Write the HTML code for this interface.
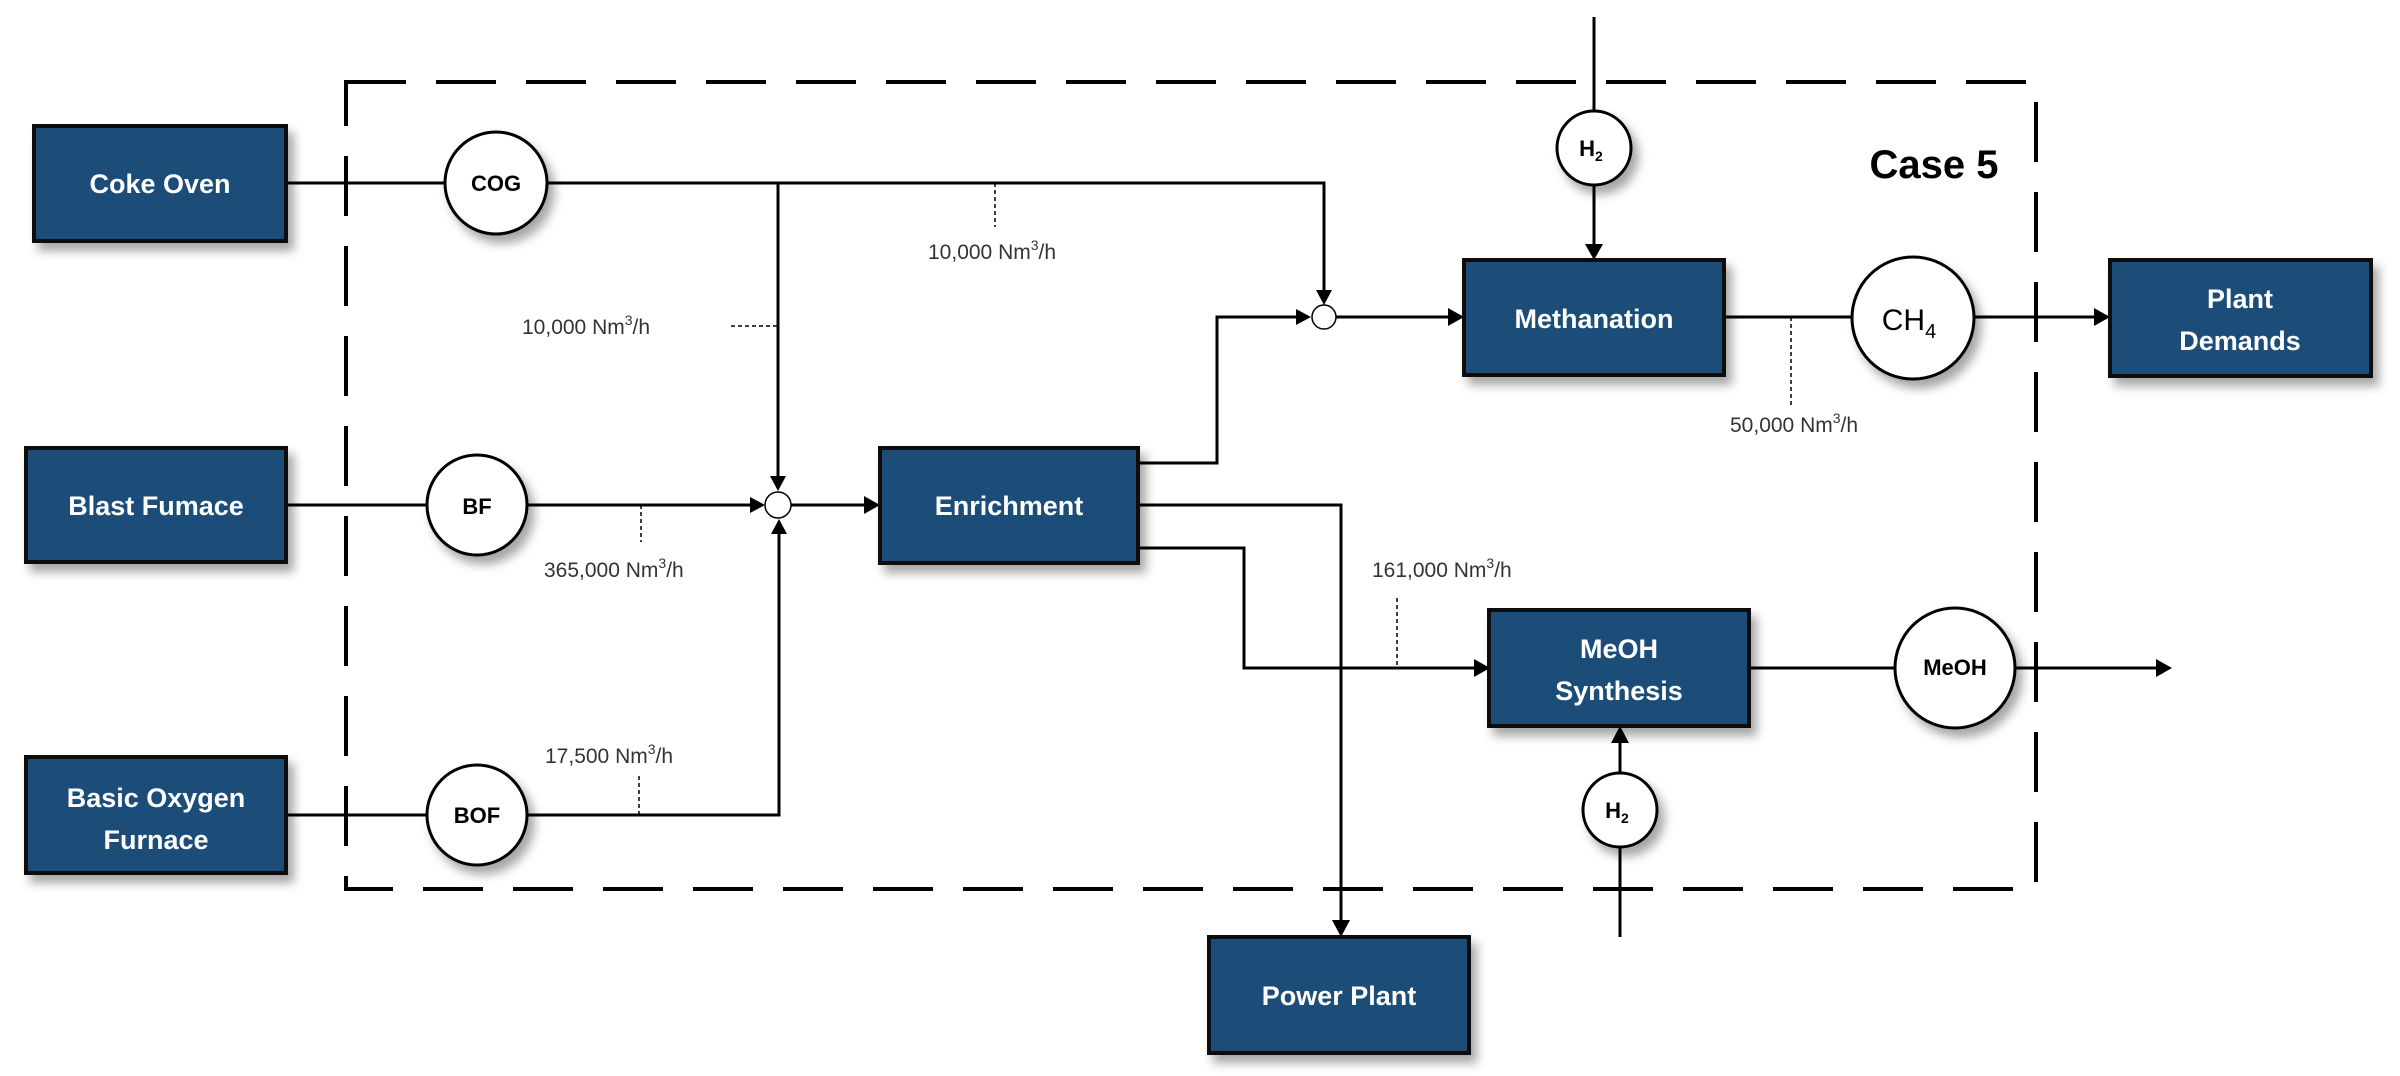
<!DOCTYPE html>
<html><head><meta charset="utf-8"><style>
html,body{margin:0;padding:0;background:#fff;}
svg{display:block;}
.bx{fill:#1f4e79;stroke:#111;stroke-width:4;}
.bt{fill:#fff;font-family:"Liberation Sans",sans-serif;font-weight:bold;font-size:27px;text-anchor:middle;}
.ln{stroke:#000;stroke-width:3;fill:none;}
.dt{stroke:#000;stroke-width:1.5;stroke-dasharray:4 3;fill:none;}
.ci{fill:#fff;stroke:#000;stroke-width:3;}
.ct{fill:#000;font-family:"Liberation Sans",sans-serif;font-weight:bold;font-size:22px;text-anchor:middle;}
.lb{fill:#333;font-family:"Liberation Sans",sans-serif;font-size:21px;}
.ah{fill:#000;}
</style></head><body>
<svg width="2400" height="1076" viewBox="0 0 2400 1076" xmlns="http://www.w3.org/2000/svg">
<defs>
<filter id="sh" x="-10%" y="-10%" width="130%" height="140%"><feDropShadow dx="6" dy="8" stdDeviation="5" flood-color="#000" flood-opacity="0.35"/></filter>
</defs>
<!-- dashed boundary -->
<path d="M346 82 H2036 V889 H346 Z" fill="none" stroke="#000" stroke-width="4" stroke-dasharray="60 30"/>
<text x="1934" y="178" font-family="Liberation Sans,sans-serif" font-weight="bold" font-size="40" text-anchor="middle" fill="#000">Case 5</text>

<!-- connectors -->
<path class="ln" d="M286 183 H445 M546 183 H1324 V292"/>
<path class="ln" d="M778 183 V478"/>
<path class="ln" d="M286 505 H427 M528 505 H752"/>
<path class="ln" d="M286 815 H427 M528 815 H779 V532"/>
<path class="ln" d="M791 505 H866"/>
<path class="ln" d="M1138 463 H1217 V317 H1298"/>
<path class="ln" d="M1336 317 H1450"/>
<path class="ln" d="M1594 17 V111 M1594 185 V246"/>
<path class="ln" d="M1724 317 H1852 M1974 317 H2096"/>
<path class="ln" d="M1138 505 H1341 V922"/>
<path class="ln" d="M1138 548 H1244 V668 H1476"/>
<path class="ln" d="M1749 668 H1895 M2015 668 H2158"/>
<path class="ln" d="M1620 937 V848 M1620 772 V740"/>

<!-- arrowheads -->
<polygon class="ah" points="1316,290 1332,290 1324,305"/>
<polygon class="ah" points="770,476 786,476 778,491"/>
<polygon class="ah" points="771,534 787,534 779,519"/>
<polygon class="ah" points="750,497 750,513 765,505"/>
<polygon class="ah" points="864,496 864,514 880,505"/>
<polygon class="ah" points="1296,309 1296,325 1311,317"/>
<polygon class="ah" points="1448,308 1448,326 1464,317"/>
<polygon class="ah" points="1585,244 1603,244 1594,260"/>
<polygon class="ah" points="2094,308 2094,326 2110,317"/>
<polygon class="ah" points="1332,920 1350,920 1341,937"/>
<polygon class="ah" points="1474,659 1474,677 1490,668"/>
<polygon class="ah" points="2156,659 2156,677 2172,668"/>
<polygon class="ah" points="1611,743 1629,743 1620,726"/>

<!-- junctions -->
<circle cx="778" cy="505" r="13" fill="#fff" stroke="#000" stroke-width="1.5"/>
<circle cx="1324" cy="317" r="12" fill="#fff" stroke="#000" stroke-width="1.5"/>

<!-- dotted ticks -->
<path class="dt" d="M995 183 V227"/>
<path class="dt" d="M731 326 H778"/>
<path class="dt" d="M641 505 V542"/>
<path class="dt" d="M639 776 V815"/>
<path class="dt" d="M1791 317 V405"/>
<path class="dt" d="M1397 598 V668"/>

<!-- flow labels -->
<text class="lb" x="928" y="259">10,000 Nm<tspan dy="-9" font-size="14">3</tspan><tspan dy="9">/h</tspan></text>
<text class="lb" x="522" y="334">10,000 Nm<tspan dy="-9" font-size="14">3</tspan><tspan dy="9">/h</tspan></text>
<text class="lb" x="544" y="577">365,000 Nm<tspan dy="-9" font-size="14">3</tspan><tspan dy="9">/h</tspan></text>
<text class="lb" x="545" y="763">17,500 Nm<tspan dy="-9" font-size="14">3</tspan><tspan dy="9">/h</tspan></text>
<text class="lb" x="1730" y="432">50,000 Nm<tspan dy="-9" font-size="14">3</tspan><tspan dy="9">/h</tspan></text>
<text class="lb" x="1372" y="577">161,000 Nm<tspan dy="-9" font-size="14">3</tspan><tspan dy="9">/h</tspan></text>

<!-- boxes -->
<g filter="url(#sh)">
<rect class="bx" x="34" y="126" width="252" height="115"/>
<rect class="bx" x="26" y="448" width="260" height="114"/>
<rect class="bx" x="26" y="757" width="260" height="116"/>
<rect class="bx" x="880" y="448" width="258" height="115"/>
<rect class="bx" x="1464" y="260" width="260" height="115"/>
<rect class="bx" x="2110" y="260" width="261" height="116"/>
<rect class="bx" x="1489" y="610" width="260" height="116"/>
<rect class="bx" x="1209" y="937" width="260" height="116"/>
<circle class="ci" cx="496" cy="183" r="51"/>
<circle class="ci" cx="477" cy="505" r="50"/>
<circle class="ci" cx="477" cy="815" r="50"/>
<circle class="ci" cx="1594" cy="148" r="37"/>
<circle class="ci" cx="1913" cy="318" r="61"/>
<circle class="ci" cx="1955" cy="668" r="60"/>
<circle class="ci" cx="1620" cy="810" r="37"/>
</g>
<text class="bt" x="160" y="193">Coke Oven</text>
<text class="bt" x="156" y="515">Blast Fumace</text>
<text class="bt" x="156" y="807">Basic Oxygen</text>
<text class="bt" x="156" y="849">Furnace</text>
<text class="bt" x="1009" y="515">Enrichment</text>
<text class="bt" x="1594" y="328">Methanation</text>
<text class="bt" x="2240" y="308">Plant</text>
<text class="bt" x="2240" y="350">Demands</text>
<text class="bt" x="1619" y="658">MeOH</text>
<text class="bt" x="1619" y="700">Synthesis</text>
<text class="bt" x="1339" y="1005">Power Plant</text>

<text class="ct" x="496" y="191">COG</text>
<text class="ct" x="477" y="514">BF</text>
<text class="ct" x="477" y="823">BOF</text>
<text class="ct" x="1591" y="156">H<tspan font-size="14" dy="5">2</tspan></text>
<text class="ct" x="1617" y="818">H<tspan font-size="14" dy="5">2</tspan></text>
<text x="1909" y="330" font-family="Liberation Sans,sans-serif" font-size="30" text-anchor="middle">CH<tspan font-size="20" dy="8">4</tspan></text>
<text class="ct" x="1955" y="675" font-size="19">MeOH</text>
</svg>
</body></html>
